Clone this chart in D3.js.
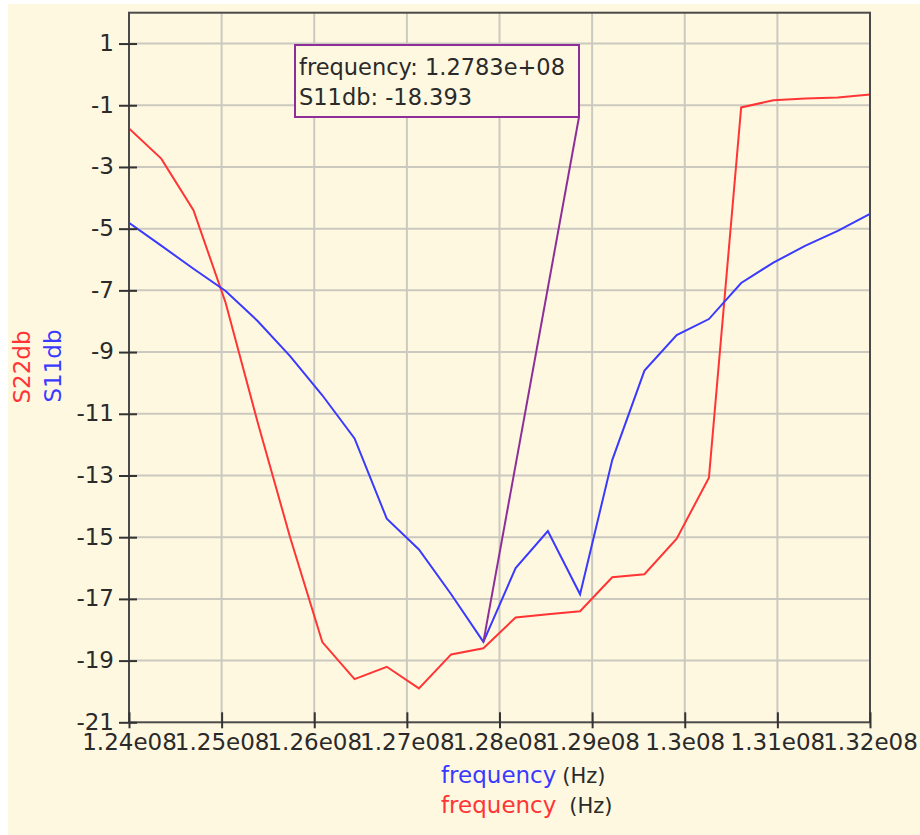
<!DOCTYPE html>
<html><head><meta charset="utf-8">
<script src="https://cdn.jsdelivr.net/npm/d3@7"></script>
<style>
html,body{margin:0;padding:0;background:#ffffff;}
svg{display:block;font-family:"DejaVu Sans",Verdana,sans-serif;}
</style></head>
<body>
<svg id="chart" width="920" height="835"></svg>
<script>
// ---- data ----
const frequency = [1.24000e8,1.24348e8,1.24696e8,1.25043e8,1.25391e8,1.25739e8,1.26087e8,1.26435e8,
  1.26783e8,1.27130e8,1.27478e8,1.27826e8,1.28174e8,1.28522e8,1.28870e8,1.29217e8,
  1.29565e8,1.29913e8,1.30261e8,1.30609e8,1.30957e8,1.31304e8,1.31652e8,1.32000e8];
const S11db = [-4.81,-5.55,-6.30,-7.02,-8.00,-9.13,-10.4,-11.8,-14.4,-15.4,-16.85,-18.393,
  -16.0,-14.8,-16.85,-12.5,-9.6,-8.45,-7.93,-6.76,-6.1,-5.55,-5.07,-4.52];
const S22db = [-1.75,-2.73,-4.4,-7.4,-11.3,-15.0,-18.4,-19.6,-19.2,-19.9,-18.8,-18.6,
  -17.6,-17.5,-17.4,-16.3,-16.2,-15.05,-13.07,-1.07,-0.84,-0.78,-0.75,-0.65];
const xTicks = [1.24e8,1.25e8,1.26e8,1.27e8,1.28e8,1.29e8,1.30e8,1.31e8,1.32e8];
const xTickLabels = ["1.24e08","1.25e08","1.26e08","1.27e08","1.28e08","1.29e08","1.3e08","1.31e08","1.32e08"];
const yTicks = [1,-1,-3,-5,-7,-9,-11,-13,-15,-17,-19,-21];
const markerIndex = 11;
const markerLines = ["frequency: 1.2783e+08","S11db: -18.393"];

// ---- layout ----
const svg = d3.select("#chart");
const L = 129, R = 870, T = 12.7, B = 722.3;
const x = d3.scaleLinear().domain([1.24e8,1.32e8]).range([L,R]);
const y = d3.scaleLinear().domain([-21,2]).range([B,T]);
const cream = "#fff8e1";
const red = "#ff3535", blue = "#3a3aff", purple = "#8e2f99";

svg.append("rect").attr("x",8).attr("y",4).attr("width",912).attr("height",831).attr("fill",cream);
svg.append("rect").attr("x",L).attr("y",T).attr("width",R-L).attr("height",B-T).attr("fill",cream);

// grid
const grid = svg.append("g").attr("stroke","#cbc8bf").attr("stroke-width",2);
grid.selectAll(".gx").data(xTicks.slice(1,-1)).join("line")
  .attr("x1",d=>x(d)).attr("x2",d=>x(d)).attr("y1",T).attr("y2",B);
grid.selectAll(".gy").data(yTicks.slice(0,-1)).join("line")
  .attr("x1",L).attr("x2",R).attr("y1",d=>y(d)).attr("y2",d=>y(d));

// lines
const clip = svg.append("clipPath").attr("id","pc").append("rect")
  .attr("x",L).attr("y",T).attr("width",R-L).attr("height",B-T);
const line = d3.line().x((d,i)=>x(frequency[i])).y(d=>y(d));
svg.append("path").datum(S22db).attr("d",line).attr("fill","none")
  .attr("stroke",red).attr("stroke-width",2).attr("clip-path","url(#pc)");
svg.append("path").datum(S11db).attr("d",line).attr("fill","none")
  .attr("stroke",blue).attr("stroke-width",2).attr("clip-path","url(#pc)");

// frame
svg.append("rect").attr("x",L).attr("y",T).attr("width",R-L).attr("height",B-T)
  .attr("fill","none").attr("stroke","#4a4a4a").attr("stroke-width",2);

// axes
const xAxis = d3.axisBottom(x).tickValues(xTicks).tickSize(0)
  .tickFormat((d,i)=>xTickLabels[i]).tickPadding(0);
const gx = svg.append("g").attr("transform",`translate(0,${B})`).call(xAxis);
gx.select(".domain").remove();
gx.selectAll(".tick text").attr("font-size",23).attr("fill","#2a2a2a")
  .attr("dy",null).attr("y",28).attr("font-family","DejaVu Sans");
gx.selectAll(".tick").append("line").attr("y1",-10).attr("y2",6)
  .attr("stroke","#333").attr("stroke-width",2);

const yAxis = d3.axisLeft(y).tickValues(yTicks).tickSize(0).tickFormat(d=>d).tickPadding(0);
const gy = svg.append("g").attr("transform",`translate(${L},0)`).call(yAxis);
gy.select(".domain").remove();
gy.selectAll(".tick text").attr("font-size",23).attr("fill","#2a2a2a")
  .attr("x",-15).attr("dy","0.3em").attr("font-family","DejaVu Sans");
gy.selectAll(".tick").append("line").attr("x1",-10).attr("x2",8)
  .attr("stroke","#333").attr("stroke-width",2);

// y titles
svg.append("text").attr("transform","translate(30,367) rotate(-90)").attr("text-anchor","middle")
  .attr("font-size",23).attr("fill",red).text("S22db");
svg.append("text").attr("transform","translate(61,366) rotate(-90)").attr("text-anchor","middle")
  .attr("font-size",23).attr("fill",blue).text("S11db");

// x titles
const t1 = svg.append("text").attr("x",441).attr("y",783).attr("font-size",23);
t1.append("tspan").attr("fill",blue).text("frequency");
t1.append("tspan").attr("fill","#2a2a2a").attr("dx",6).attr("font-size",21).text("(Hz)");
const t2 = svg.append("text").attr("x",441).attr("y",813).attr("font-size",23);
t2.append("tspan").attr("fill",red).text("frequency");
t2.append("tspan").attr("fill","#2a2a2a").attr("dx",13).attr("font-size",21).text("(Hz)");

// marker
const bx = 295, by = 45, bw = 284, bh = 72;
svg.append("line").attr("x1",x(frequency[markerIndex])).attr("y1",y(S11db[markerIndex]))
  .attr("x2",bx+bw).attr("y2",by+bh).attr("stroke",purple).attr("stroke-width",2);
svg.append("rect").attr("x",bx).attr("y",by).attr("width",bw).attr("height",bh)
  .attr("fill",cream).attr("stroke",purple).attr("stroke-width",2);
svg.selectAll(".mk").data(markerLines).join("text")
  .attr("x",bx+4).attr("y",(d,i)=>by+30+i*30).attr("font-size",22.5).attr("fill","#2a2a2a").text(d=>d);
</script>
</body></html>
